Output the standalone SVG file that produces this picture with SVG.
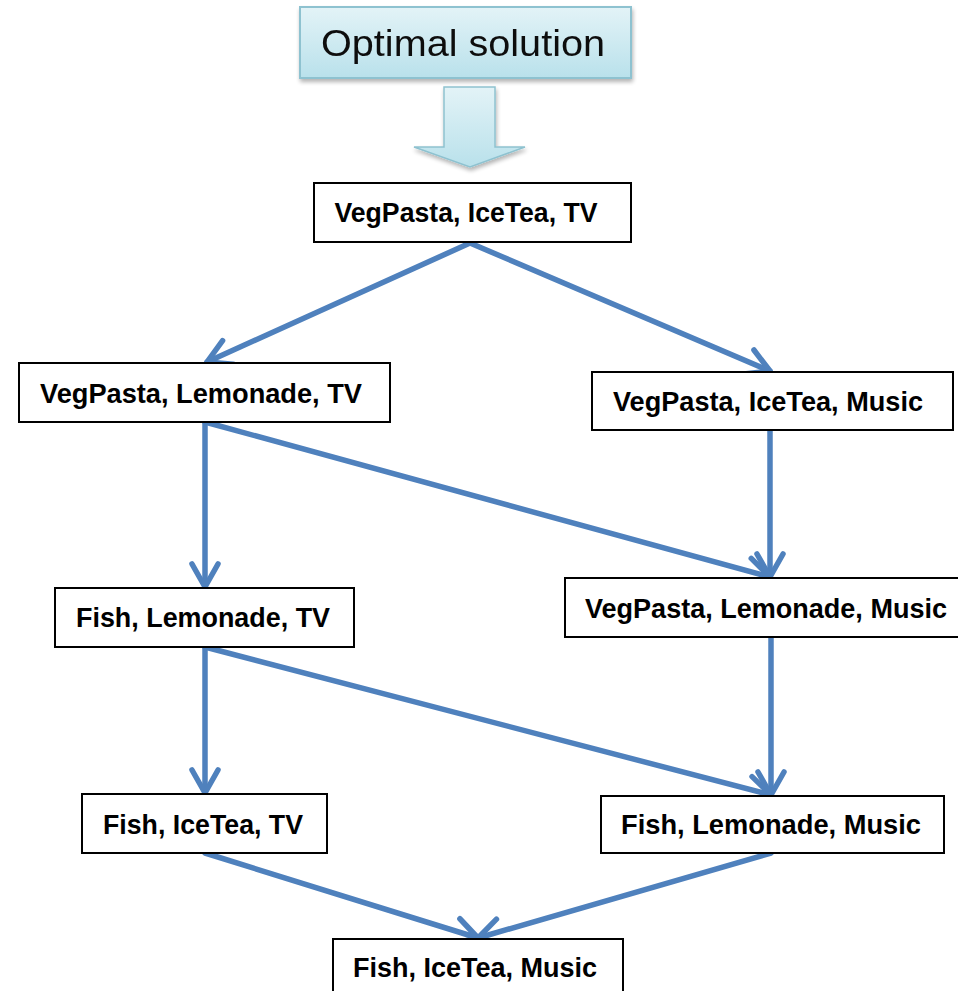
<svg xmlns="http://www.w3.org/2000/svg" width="958" height="991" viewBox="0 0 958 991">
  <defs>
    <linearGradient id="paleBlue" x1="0" y1="0" x2="0" y2="1">
      <stop offset="0" stop-color="#e3f3f7"/>
      <stop offset="1" stop-color="#b9e1eb"/>
    </linearGradient>
    <filter id="softShadow" x="-10%" y="-10%" width="130%" height="140%">
      <feGaussianBlur in="SourceAlpha" stdDeviation="2"/>
      <feOffset dx="1" dy="3" result="b"/>
      <feComponentTransfer><feFuncA type="linear" slope="0.3"/></feComponentTransfer>
      <feMerge><feMergeNode/><feMergeNode in="SourceGraphic"/></feMerge>
    </filter>
    <marker id="vHead" viewBox="-28 -17 32 34" markerWidth="32" markerHeight="34" refX="0" refY="0" orient="auto" markerUnits="userSpaceOnUse">
      <path d="M -23 -13 L 0 0 L -23 13" fill="none" stroke="#4f81bd" stroke-width="5.5" stroke-linecap="round" stroke-linejoin="round"/>
    </marker>
  </defs>
  <style>
    .box { fill: #ffffff; stroke: #000000; stroke-width: 2; }
    .lbl { font-family: "Liberation Sans", Arial, sans-serif; font-weight: bold; font-size: 27px; fill: #000000; text-anchor: middle; }
    .title { font-family: "Liberation Sans", Arial, sans-serif; font-size: 36px; fill: #111111; text-anchor: middle; }
    .edge { fill: none; stroke: #4f81bd; stroke-width: 5.5; stroke-linecap: round; marker-end: url(#vHead); }
  </style>

  <rect width="958" height="991" fill="#ffffff"/>

  <!-- header and block arrow -->
  <g id="header" filter="url(#softShadow)">
    <rect x="300" y="7" width="331" height="71" fill="url(#paleBlue)" stroke="#8ec2d0" stroke-width="2"/>
    <text class="title" x="463" y="56" textLength="284" lengthAdjust="spacingAndGlyphs">Optimal solution</text>
  </g>
  <g id="blockArrow" filter="url(#softShadow)">
    <polygon points="444,87 495,87 495,147 525,147 470,167 414,147 444,147" fill="url(#paleBlue)" stroke="#8ec2d0" stroke-width="1.5"/>
  </g>

  <!-- connectors -->
  <g id="connectors">
    <path class="edge" d="M 470 243 L 207 362"/>
    <path class="edge" d="M 470 243 L 770 371"/>
    <path class="edge" d="M 205 422 L 205 587"/>
    <path class="edge" d="M 205 422 L 770 577"/>
    <path class="edge" d="M 770 430 L 770 577"/>
    <path class="edge" d="M 205 647 L 205 793"/>
    <path class="edge" d="M 205 647 L 771 795"/>
    <path class="edge" d="M 771 637 L 771 795"/>
    <path class="edge" d="M 205 853 L 478 938"/>
    <path class="edge" d="M 771 853 L 478 938"/>
  </g>

  <!-- nodes -->
  <g id="n-vegpasta-icetea-tv">
    <rect class="box" x="314" y="183" width="317" height="59"/>
    <text class="lbl" x="466" y="222" textLength="263" lengthAdjust="spacingAndGlyphs">VegPasta, IceTea, TV</text>
  </g>
  <g id="n-vegpasta-lemonade-tv">
    <rect class="box" x="19" y="363" width="371" height="59"/>
    <text class="lbl" x="201" y="403" textLength="322" lengthAdjust="spacingAndGlyphs">VegPasta, Lemonade, TV</text>
  </g>
  <g id="n-vegpasta-icetea-music">
    <rect class="box" x="592" y="372" width="361" height="58"/>
    <text class="lbl" x="768" y="411" textLength="310" lengthAdjust="spacingAndGlyphs">VegPasta, IceTea, Music</text>
  </g>
  <g id="n-vegpasta-lemonade-music">
    <rect class="box" x="565" y="578" width="400" height="59"/>
    <text class="lbl" x="766" y="618" textLength="362" lengthAdjust="spacingAndGlyphs">VegPasta, Lemonade, Music</text>
  </g>
  <g id="n-fish-lemonade-tv">
    <rect class="box" x="55" y="588" width="299" height="59"/>
    <text class="lbl" x="203" y="627" textLength="254" lengthAdjust="spacingAndGlyphs">Fish, Lemonade, TV</text>
  </g>
  <g id="n-fish-icetea-tv">
    <rect class="box" x="82" y="794" width="245" height="59"/>
    <text class="lbl" x="203" y="834" textLength="200" lengthAdjust="spacingAndGlyphs">Fish, IceTea, TV</text>
  </g>
  <g id="n-fish-lemonade-music">
    <rect class="box" x="601" y="796" width="343" height="57"/>
    <text class="lbl" x="771" y="834" textLength="300" lengthAdjust="spacingAndGlyphs">Fish, Lemonade, Music</text>
  </g>
  <g id="n-fish-icetea-music">
    <rect class="box" x="333" y="939" width="290" height="70"/>
    <text class="lbl" x="475" y="977" textLength="244" lengthAdjust="spacingAndGlyphs">Fish, IceTea, Music</text>
  </g>
</svg>
